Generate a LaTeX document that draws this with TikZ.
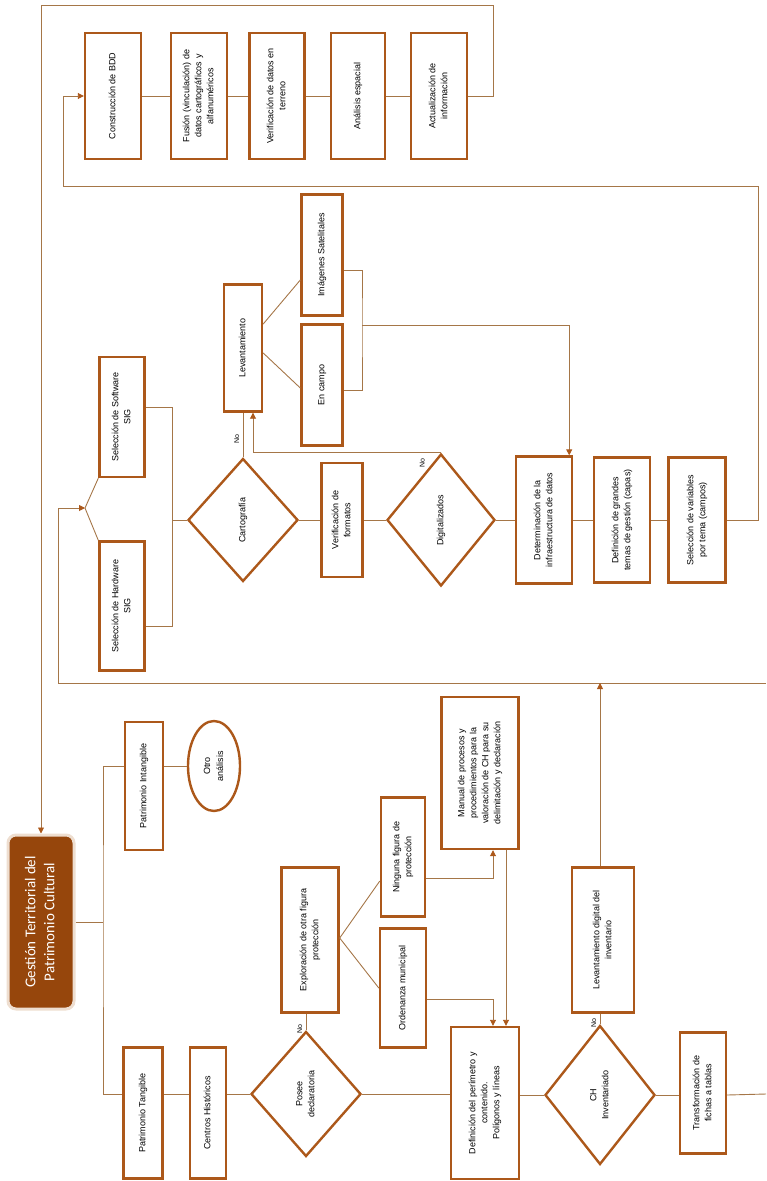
\documentclass[tikz,border=0pt]{standalone}
\usepackage{fontspec}
\setmainfont{Liberation Sans}
\newfontfamily\titlefont{Carlito}
\usepackage{graphicx}
\usepackage{tikz}
\usetikzlibrary{shapes.geometric,arrows.meta,calc}

\definecolor{boxbrown}{RGB}{172,88,26}
\definecolor{linebrown}{RGB}{165,118,72}
\definecolor{titlefill}{RGB}{150,70,12}
\definecolor{titlehalo}{RGB}{238,222,208}

% rotated, centred text for the upright boxes
\newcommand{\vtext}[1]{\rotatebox{90}{\begin{tabular}{@{}c@{}}#1\end{tabular}}}

\begin{document}
\begin{tikzpicture}[
    x=1pt, y=-1pt,
    sz/.style 2 args={minimum width=#1pt, minimum height=#2pt},
    box/.style={rectangle, draw=boxbrown, line width=2.4pt, fill=white, inner sep=1pt, font=\fontsize{9}{12}\selectfont},
    decision/.style={diamond, draw=boxbrown, line width=2.4pt, fill=white, inner sep=0pt, font=\fontsize{9}{12}\selectfont},
    oval/.style={ellipse, draw=boxbrown, line width=2.4pt, fill=white, inner sep=0pt, font=\fontsize{9}{13}\selectfont},
    title/.style={rectangle, rounded corners=8pt, fill=titlefill, draw=titlehalo, line width=3pt, text=white, font=\titlefont\fontsize{15}{19}\selectfont},
    line/.style={draw=linebrown, line width=0.9pt},
    arrow/.style={line, -{Triangle[length=6pt, width=6pt, color=boxbrown]}},
    lbl/.style={font=\fontsize{7}{8}\selectfont, inner sep=1pt}
]
\useasboundingbox (0,0) rectangle (766,1181);

% Top row: database
\node[box, sz={56}{126}] (bdd) at (113,96) {\vtext{Construcción de BDD}};
\node[box, sz={56}{126}] (fusion) at (199,96) {\vtext{Fusión (vinculación) de\\datos cartográficos y\\alfanuméricos}};
\node[box, sz={55}{126}] (verterr) at (277,96) {\vtext{Verificación de datos en\\terreno}};
\node[box, sz={54}{126}] (analisis) at (358,96) {\vtext{Análisis espacial}};
\node[box, sz={56}{126}] (actual) at (439,96) {\vtext{Actualización de\\información}};

% Middle row: SIG and cartography
\node[box, sz={45}{120}] (software) at (122,417) {\vtext{Selección de Software\\SIG}};
\node[box, sz={45}{129}] (hardware) at (122,606) {\vtext{Selección de Hardware\\SIG}};
\coordinate (fork) at (85,508);
\coordinate (swj) at (172,520);
\node[decision, sz={110}{123}] (carto) at (243,520) {\vtext{Cartografía}};
\node[box, sz={41}{114}] (formatos) at (342,520) {\vtext{Verificación de\\formatos}};
\node[decision, sz={108}{132}] (digital) at (441,520) {\vtext{Digitalizados}};
\node[box, sz={56}{127}] (infra) at (544,520) {\vtext{Determinación de la\\infraestructura de datos}};
\node[box, sz={56}{125}] (capas) at (622,520) {\vtext{Definición de grandes\\temas de gestión (capas)}};
\node[box, sz={57}{125}] (selvar) at (697,520) {\vtext{Selección de variables\\por tema (campos)}};

% Survey
\node[box, sz={38}{127}] (levant) at (243,348) {\vtext{Levantamiento}};
\node[box, sz={41}{121}] (satel) at (322,255) {\vtext{Imágenes Satelitales}};
\node[box, sz={41}{121}] (campo) at (322,385) {\vtext{En campo}};
\coordinate (brk) at (362,325);

% Bottom part: heritage
\node[title, sz={66}{174}] (gestion) at (41,922) {\vtext{Gestión Territorial del\\Patrimonio Cultural}};
\coordinate (jg) at (103,922);
\node[box, sz={38}{128}] (intang) at (144,786) {\vtext{Patrimonio Intangible}};
\node[oval, sz={52}{90}] (otro) at (214,766) {\vtext{Otro\\análisis}};
\node[box, sz={39}{131}] (tang) at (143,1113) {\vtext{Patrimonio Tangible}};
\node[box, sz={36}{131}] (centros) at (208,1113) {\vtext{Centros Históricos}};
\node[decision, sz={110}{125}] (posee) at (306,1094) {\vtext{Posee\\declaratoria}};
\node[box, sz={57}{145}] (explor) at (310,940) {\vtext{Exploración de otra figura\\protección}};
\node[box, sz={44}{119}] (ninguna) at (403,857) {\vtext{Ninguna figura de\\protección}};
\node[box, sz={46}{119}] (ordenanza) at (403,988) {\vtext{Ordenanza municipal}};
\node[box, sz={77}{152}] (manual) at (480,773) {\vtext{Manual de procesos y\\procedimientos para la\\valoración de CH para su\\delimitación y declaración}};
\node[box, sz={68}{152}] (defin) at (485,1103) {\vtext{Definición del perímetro y\\contenido.\\Polígonos y líneas}};
\node[decision, sz={110}{139}] (chinv) at (600,1095) {\vtext{CH\\Inventariado}};
\node[box, sz={62}{145}] (levdig) at (603,940) {\vtext{Levantamiento digital del\\inventario}};
\node[box, sz={46}{121}] (transf) at (703,1093) {\vtext{Transformación de\\fichas a tablas}};
\coordinate (ret) at (766,683);
\coordinate (outR) at (766,1094);

% Arrows: top row and loops
\draw[line] (bdd) -- (fusion);
\draw[line] (fusion) -- (verterr);
\draw[line] (verterr) -- (analisis);
\draw[line] (analisis) -- (actual);
\draw[arrow] (actual) -| (493,5) -| (gestion);
\draw[arrow] (selvar) -| (758,186) -| (63,96) -- (bdd);

% Arrows: middle row
\draw[line] (software.south west) -- (fork) -- (hardware.north west);
\draw[arrow] (ret) -- (58,683) |- (fork);
\draw[line] (software.east |- 0,407) -| (swj);
\draw[line] (hardware.east |- 0,626) -| (swj);
\draw[line] (swj) -- (carto);
\draw[line] (carto) -- (formatos);
\draw[line] (formatos) -- (digital);
\draw[line] (digital) -- (infra);
\draw[line] (infra) -- (capas);
\draw[line] (capas) -- (selvar);
\draw[line] (carto) -- node[lbl, pos=0.4, left] (no1) {\vtext{No}} (levant);
\draw[arrow] (digital.north) -| ([xshift=10pt]levant.south);
\node[lbl] (no2) at (423,463) {\vtext{No}};
\draw[line] (levant.east |- 0,324) -- (satel.west |- 0,280);
\draw[line] (levant.east |- 0,353) -- (campo.west |- 0,388);
\draw[line] (satel.east |- 0,270) -| (brk) |- (campo.east |- 0,390);
\draw[arrow] (brk) -| ([xshift=-4pt]infra.north east);

% Arrows: bottom part
\draw[line] (gestion) -- (jg);
\draw[line] (intang.west |- 0,766) -| (jg) |- (tang.west |- posee);
\draw[line] (intang.east |- otro) -- (otro);
\draw[line] (tang.east |- posee) -- (centros.west |- posee);
\draw[line] (centros.east |- posee) -- (posee);
\draw[line] (posee) -- node[lbl, pos=0.1, left] (no3) {\vtext{No}} (posee |- explor.south);
\draw[line] (explor.east |- 0,938) -- (ninguna.west |- 0,881);
\draw[line] (explor.east |- 0,938) -- (ordenanza.west |- 0,988);
\draw[arrow] (ninguna.east |- 0,878) -| (manual.south -| 493,0);
\draw[arrow] (manual.south -| 506,0) -- (defin.north -| 506,0);
\draw[arrow] (ordenanza.east |- 0,999) -| (defin.north -| 493,0);
\draw[line] (posee) -- (posee -| defin.west);
\draw[line] (defin.east |- chinv) -- (chinv);
\draw[line] (chinv) -- node[lbl, pos=0.1, left] (no4) {\vtext{No}} (chinv |- levdig.south);
\draw[arrow] (levdig.north -| chinv) -- (chinv |- ret);
\draw[line] (chinv) -- (chinv -| transf.west);
\draw[line] (transf.east |- chinv) -- (outR);

\end{tikzpicture}
\end{document}
